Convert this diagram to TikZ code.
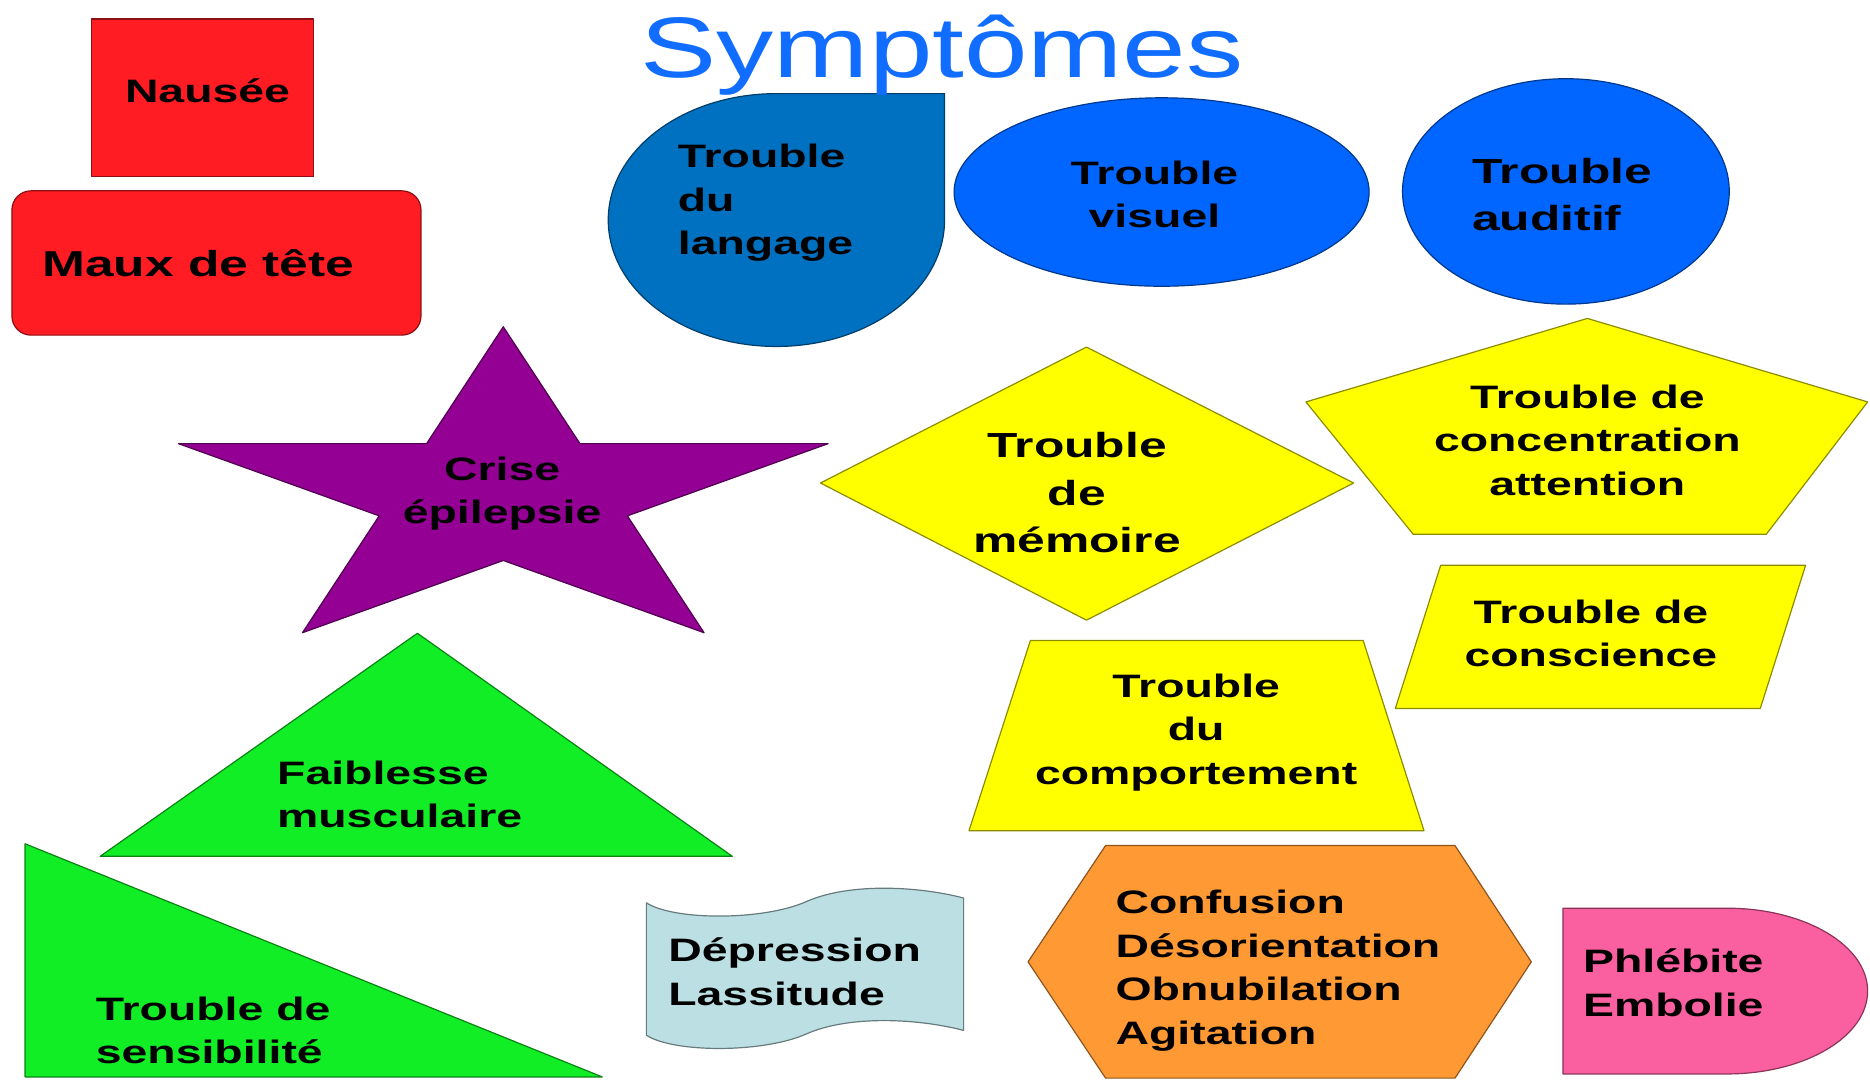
\documentclass[tikz,border=0pt]{standalone}
\usepackage{fontspec}
\setmainfont{Liberation Sans}
\newfontfamily\etiq[FakeStretch=1.43]{Liberation Sans}
\newfontfamily\titrefont[FakeStretch=1.33]{Liberation Sans}

\definecolor{crouge}{RGB}{255,28,35}
\definecolor{cbleuf}{RGB}{0,112,192}
\definecolor{cbleu}{RGB}{0,102,255}
\definecolor{ctitre}{RGB}{17,109,255}
\definecolor{cviolet}{RGB}{147,0,147}
\definecolor{cjaune}{RGB}{255,255,0}
\definecolor{cvert}{RGB}{18,238,37}
\definecolor{corange}{RGB}{255,153,51}
\definecolor{crose}{RGB}{250,95,160}
\definecolor{cgris}{RGB}{187,223,227}

\tikzset{
    forme/.style={draw=#1!55!black, fill=#1, line width=0.5pt, line join=round},
    txt/.style={font=\etiq\bfseries\fontsize{13.6}{18.3}\selectfont, inner sep=0pt},
    txtgros/.style={font=\etiq\bfseries\fontsize{14.6}{19.8}\selectfont, inner sep=0pt},
}

\begin{document}
\begin{tikzpicture}[x=0.5pt, y=-0.5pt]
    \useasboundingbox (0,0) rectangle (1568,906);

    % パラメータの定義
    \pgfmathsetmacro{\Ra}{141.8}
    \pgfmathsetmacro{\Rb}{0.382*\Ra}

    % 頂点の座標の定義
    \coordinate (L1) at (651,78.5);
    \coordinate (L2) at (792,78.5);
    \coordinate (L3) at (792,184.5);
    \coordinate (M1) at (911,291);
    \coordinate (M2) at (1135,405);
    \coordinate (M3) at (911,520);
    \coordinate (M4) at (688,405);
    \coordinate (C1) at (1331,267);
    \coordinate (C2) at (1566,337);
    \coordinate (C3) at (1481,448);
    \coordinate (C4) at (1185,448);
    \coordinate (C5) at (1095,337);
    \coordinate (S1) at (1208,474);
    \coordinate (S2) at (1514,474);
    \coordinate (S3) at (1476,594);
    \coordinate (S4) at (1170,594);
    \coordinate (T1) at (864,537);
    \coordinate (T2) at (1143,537);
    \coordinate (T3) at (1194,696.5);
    \coordinate (T4) at (812.5,696.5);
    \coordinate (H1) at (927,709);
    \coordinate (H2) at (1220,709);
    \coordinate (H3) at (1284,806.5);
    \coordinate (H4) at (1220,904);
    \coordinate (H5) at (927,904);
    \coordinate (H6) at (862,806.5);
    \coordinate (F1) at (350,531);
    \coordinate (F2) at (614,718);
    \coordinate (F3) at (84,718);
    \coordinate (E1) at (21,707.5);
    \coordinate (E2) at (505,903);
    \coordinate (E3) at (21,903);
    \coordinate (P1) at (1310.5,761.5);
    \coordinate (P2) at (1448,761.5);
    \coordinate (P3) at (1310.5,900.5);

    % 図形の描画
    \draw [forme=crouge] (77,16) rectangle (263,148);
    \draw [forme=crouge, rounded corners=8pt] (10,160) rectangle (353,281);
    \draw [forme=cbleuf] (L1) -- (L2) -- (L3)
        arc[start angle=0, end angle=270, x radius=141, y radius=106] -- cycle;
    \draw [forme=cbleu] (974,161) ellipse[x radius=174, y radius=79];
    \draw [forme=cbleu] (1313,160.5) ellipse[x radius=137, y radius=94.5];
    \begin{scope}[shift={(422,415.8)}, xscale=2.02]
        \draw [forme=cviolet] (270:\Ra)
            \foreach \k in {1,...,9} { -- ({270+36*\k}:{ifthenelse(isodd(\k),\Rb,\Ra)}) } -- cycle;
    \end{scope}
    \draw [forme=cjaune] (M1) -- (M2) -- (M3) -- (M4) -- cycle;
    \draw [forme=cjaune] (C1) -- (C2) -- (C3) -- (C4) -- (C5) -- cycle;
    \draw [forme=cjaune] (S1) -- (S2) -- (S3) -- (S4) -- cycle;
    \draw [forme=cjaune] (T1) -- (T2) -- (T3) -- (T4) -- cycle;
    \draw [forme=corange] (H1) -- (H2) -- (H3) -- (H4) -- (H5) -- (H6) -- cycle;
    \draw [forme=cvert] (F1) -- (F2) -- (F3) -- cycle;
    \draw [forme=cvert] (E1) -- (E2) -- (E3) -- cycle;
    \draw [forme=crose] (P1) -- (P2)
        arc[start angle=270, end angle=450, x radius=118, y radius=69.5] -- (P3) -- cycle;
    \draw [forme=cgris] (542,757) .. controls (565,772) and (640,772) .. (676,756)
        .. controls (712,740) and (770,743) .. (808,753) -- (808,864)
        .. controls (770,854) and (712,851) .. (676,867)
        .. controls (640,883) and (565,883) .. (542,868) -- cycle;

    % ラベル
    \node [font=\titrefont\fontsize{36}{40}\selectfont, text=ctitre, inner sep=0pt, anchor=base] (titre) at (790,65) {Symptômes};
    \node [txt] (nausee) at (174,76) {Nausée};
    \node [txt, font=\etiq\bfseries\fontsize{15.1}{19}\selectfont, anchor=west] (maux) at (35,221) {Maux de tête};
    \node [txt, align=left, anchor=west] (langage) at (568,170) {Trouble\\du\\langage};
    \node [txt, align=center] (visuel) at (968,163) {Trouble\\visuel};
    \node [txtgros, align=left, anchor=west] (auditif) at (1234,163) {Trouble\\auditif};
    \node [txt, align=center] (crise) at (421,414) {Crise\\épilepsie};
    \node [txtgros, align=center] (memoire) at (903,413) {Trouble\\de\\mémoire};
    \node [txt, align=center] (concentration) at (1331,369) {Trouble de\\concentration\\attention};
    \node [txt, align=center] (conscience) at (1334,531) {Trouble de\\conscience};
    \node [txt, align=center] (comportement) at (1003,614) {Trouble\\du\\comportement};
    \node [txt, align=left, anchor=west] (confusion) at (935,814) {Confusion\\Désorientation\\Obnubilation\\Agitation};
    \node [txt, align=left, anchor=west] (phlebite) at (1327,824) {Phlébite\\Embolie};
    \node [txt, align=left, anchor=west] (faiblesse) at (232,666) {Faiblesse\\musculaire};
    \node [txt, align=left, anchor=west] (sensibilite) at (80,864) {Trouble de\\sensibilité};
    \node [txt, align=left, anchor=west] (depression) at (560,815) {Dépression\\Lassitude};

\end{tikzpicture}
\end{document}
